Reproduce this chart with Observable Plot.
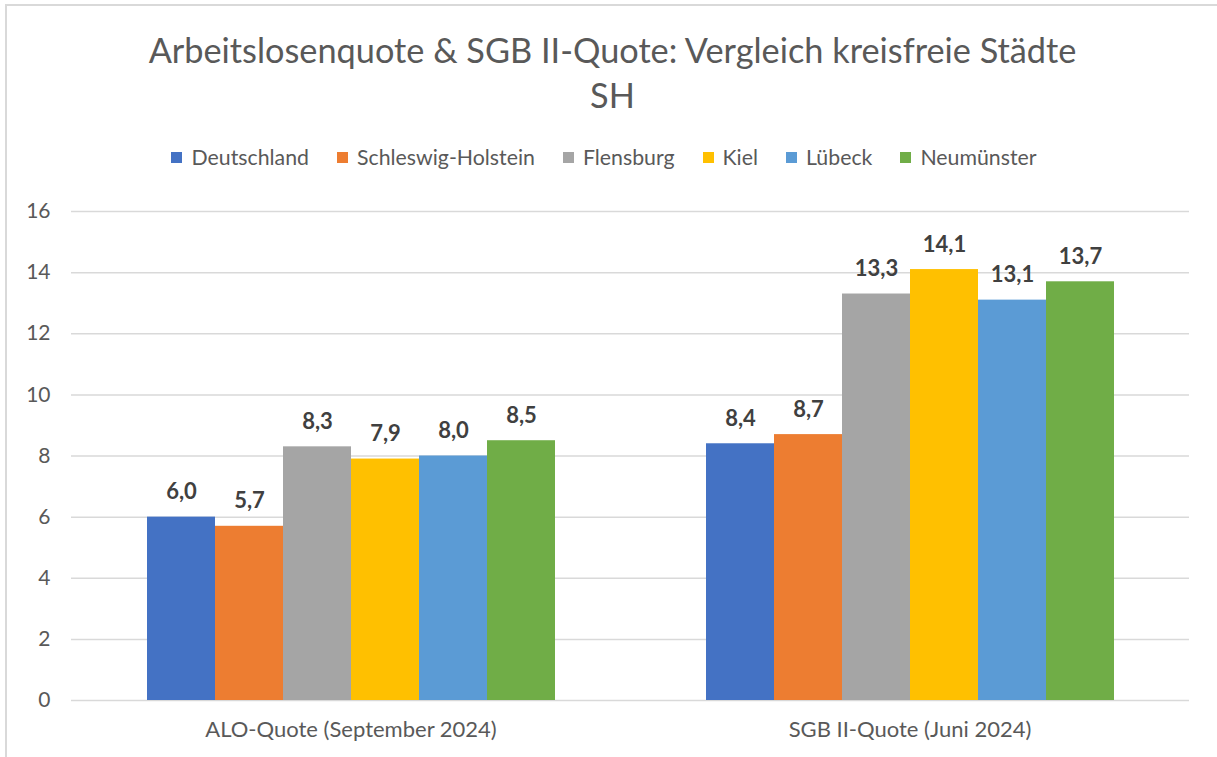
<!DOCTYPE html>
<html>
<head>
<meta charset="utf-8">
<script src="https://cdn.jsdelivr.net/npm/d3@7"></script>
<script src="https://cdn.jsdelivr.net/npm/@observablehq/plot@0.6"></script>
<style>
  html, body { margin: 0; padding: 0; background: #fff; }
  #wrap { position: relative; width: 1217px; height: 757px; overflow: hidden; font-family: Lato, "Open Sans", sans-serif; }
  #frame { position: absolute; left: 5px; top: 4px; width: 1300px; height: 800px; border-top: 2px solid #d9d9d9; border-left: 2px solid #d9d9d9; }
  #title { position: absolute; left: 8px; top: 27px; width: 1209px; text-align: center; font-size: 34.3px; line-height: 45px; color: #595959; }
  #legend { position: absolute; left: 0; top: 145px; width: 1208px; display: flex; justify-content: center; font-size: 21.3px; line-height: 24px; color: #595959; }
  .item { display: flex; align-items: center; margin: 0 14px; }
  .sw { width: 11px; height: 11px; margin-right: 9px; }
  #chart { position: absolute; left: 0; top: 190px; }
</style>
</head>
<body>
<div id="wrap">
  <div id="frame"></div>
  <div id="title">Arbeitslosenquote &amp; SGB II-Quote: Vergleich kreisfreie Städte<br>SH</div>
  <div id="legend"></div>
  <div id="chart"></div>
</div>
<script>
const categories = ["ALO-Quote (September 2024)", "SGB II-Quote (Juni 2024)"];
const regions = ["Deutschland", "Schleswig-Holstein", "Flensburg", "Kiel", "Lübeck", "Neumünster"];
const aloValues = [6.0, 5.7, 8.3, 7.9, 8.0, 8.5];
const sgbValues = [8.4, 8.7, 13.3, 14.1, 13.1, 13.7];
const colors = ["#4472C4", "#ED7D31", "#A5A5A5", "#FFC000", "#5B9BD5", "#70AD47"];
const yTicks = [0, 2, 4, 6, 8, 10, 12, 14, 16];

const seriesByCategory = [aloValues, sgbValues];
const data = [];
categories.forEach((c, i) => {
  regions.forEach((r, j) => data.push({category: c, region: r, value: seriesByCategory[i][j]}));
});

// legend
const legend = document.getElementById("legend");
regions.forEach((r, i) => {
  const it = document.createElement("div");
  it.className = "item";
  const sw = document.createElement("span");
  sw.className = "sw";
  sw.style.background = colors[i];
  const t = document.createElement("span");
  t.textContent = r;
  it.appendChild(sw); it.appendChild(t);
  legend.appendChild(it);
});

const fmt = v => v.toFixed(1).replace(".", ",");

const chart = Plot.plot({
  width: 1217,
  height: 567,
  marginTop: 21,
  marginBottom: 57,
  marginLeft: 70,
  marginRight: 28,
  style: {fontFamily: "Lato, 'Open Sans', sans-serif", color: "#595959", background: "transparent"},
  fx: {domain: categories, paddingInner: 0, paddingOuter: 0, label: null},
  x: {domain: regions, paddingInner: 0, paddingOuter: 1.1, axis: null},
  y: {domain: [0, 16], label: null},
  color: {domain: regions, range: colors},
  marks: [
    Plot.ruleY(yTicks, {stroke: "#d9d9d9", strokeWidth: 1.5}),
    Plot.barY(data, {fx: "category", x: "region", y: "value", fill: "region", inset: 0}),
    Plot.text(data, {fx: "category", x: "region", y: "value", text: d => fmt(d.value), dy: -25, fontWeight: "bold", fill: "#404040", fontSize: 22}),
    Plot.axisY(yTicks, {tickSize: 0, tickPadding: 21, fontSize: 21, fill: "#595959", label: null}),
    Plot.axisFx({anchor: "bottom", tickSize: 0, tickPadding: 21, fontSize: 22, fill: "#595959", label: null})
  ]
});
document.getElementById("chart").appendChild(chart);
</script>
</body>
</html>
